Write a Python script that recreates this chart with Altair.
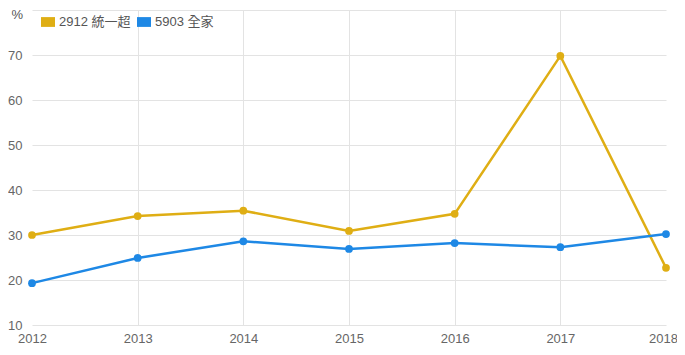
import altair as alt
import pandas as pd

years = [2012, 2013, 2014, 2015, 2016, 2017, 2018]
series_names = ["2912 統一超", "5903 全家"]
values_2912 = [30.0, 34.2, 35.4, 30.9, 34.7, 69.8, 22.7]
values_5903 = [19.3, 24.9, 28.6, 26.9, 28.2, 27.3, 30.2]
colors = ["#dfae14", "#1e88e5"]

rows = []
for y, v in zip(years, values_2912):
    rows.append({"year": y, "series": series_names[0], "value": v})
for y, v in zip(years, values_5903):
    rows.append({"year": y, "series": series_names[1], "value": v})
df = pd.DataFrame(rows)

FONT = "Liberation Sans, Arial, Noto Sans CJK TC, sans-serif"

color = alt.Color(
    "series:N",
    scale=alt.Scale(domain=series_names, range=colors),
    legend=alt.Legend(
        title=None,
        orient="none",
        legendX=9,
        legendY=5,
        direction="horizontal",
        symbolType="M-1,-0.7L1,-0.7L1,0.7L-1,0.7Z",
        symbolSize=196,
        symbolStrokeWidth=0,
        symbolOpacity=1,
        labelFont=FONT,
        labelFontSize=13,
        labelColor="#555555",
        labelOffset=4,
        columnPadding=6,
    ),
)

x = alt.X(
    "year:Q",
    scale=alt.Scale(domain=[2012, 2018], nice=False, zero=False),
    axis=alt.Axis(
        title=None,
        values=years,
        format="d",
        labelFlush=False,
        ticks=False,
        domain=False,
        labelPadding=7,
        labelOffset={"condition": {"test": "datum.value == 2018", "value": -3}, "value": 0},
        gridOpacity={"condition": {"test": "datum.value == 2012 || datum.value == 2018", "value": 0}, "value": 1},
    ),
)
y = alt.Y(
    "value:Q",
    scale=alt.Scale(domain=[10, 80], nice=False, zero=False),
    axis=alt.Axis(
        title="%",
        titleAngle=0,
        titleAlign="left",
        titleBaseline="top",
        titleX=-21,
        titleY=-2,
        titleFont=FONT,
        titleFontSize=13,
        titleFontWeight="normal",
        titleColor="#555555",
        values=[10, 20, 30, 40, 50, 60, 70, 80],
        labelExpr="datum.value == 80 ? '' : datum.label",
        ticks=False,
        domain=False,
        labelPadding=10,
    ),
)

base = alt.Chart(df).encode(x=x, y=y, color=color)
lines = base.mark_line(strokeWidth=2.5)
points = base.mark_circle(size=60, opacity=1)

chart = (
    alt.layer(lines, points)
    .properties(width=634, height=315, autosize=alt.AutoSizeParams(type="none"),
                padding={"left": 24, "top": 2, "right": 11, "bottom": 21})
    .configure_view(stroke=None)
    .configure_axis(
        labelFont=FONT,
        labelFontSize=13,
        labelColor="#666666",
        gridColor="#e3e3e3",
        gridWidth=1,
    )
)

chart.save("out.html", embed_options={"renderer": "svg", "actions": False})
